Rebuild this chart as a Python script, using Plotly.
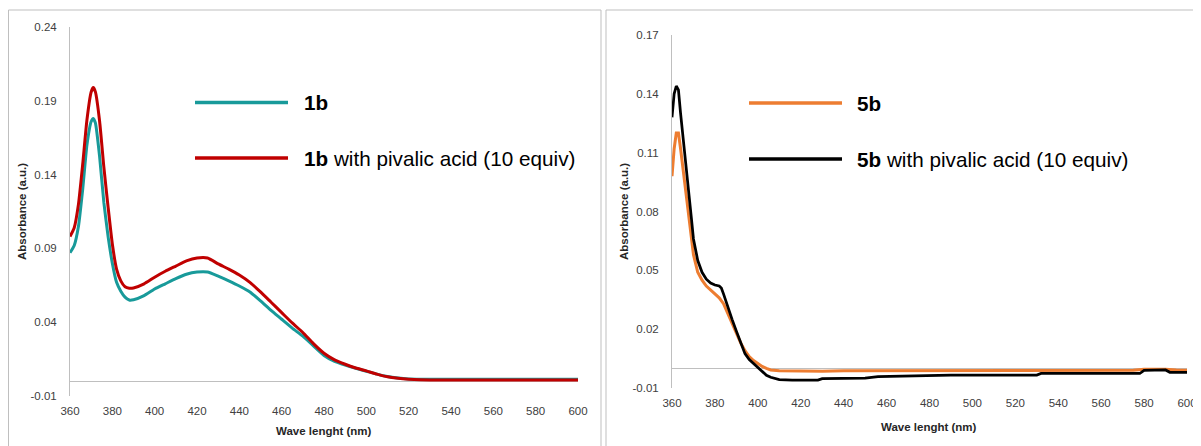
import plotly.graph_objects as go

# The page adds an 8px body margin; the figure is sized/positioned to compensate.
OFF = 8
W, H = 1201 - OFF, 446 - OFF

# ---------------- data ----------------
wl_1b = [360, 362, 364, 366, 368, 370, 371, 372, 374, 376, 378, 380, 382, 384, 386, 388,
         390, 395, 400, 405, 410, 415, 420, 425, 430, 435, 440, 445, 450, 455, 460, 465,
         470, 475, 480, 485, 490, 495, 500, 505, 510, 515, 520, 530, 540, 550, 560, 570,
         580, 590, 600]
abs_1b = [0.087, 0.092, 0.105, 0.130, 0.160, 0.176, 0.178, 0.175, 0.152, 0.121, 0.098, 0.080,
          0.067, 0.061, 0.057, 0.055, 0.0552, 0.058, 0.0625, 0.066, 0.0695, 0.0725, 0.0740,
          0.0740, 0.0712, 0.0680, 0.0645, 0.0605, 0.0545, 0.0480, 0.0420, 0.0360, 0.0305,
          0.0240, 0.0175, 0.0135, 0.0110, 0.0088, 0.0068, 0.0048, 0.0032, 0.0022, 0.0016,
          0.0013, 0.0013, 0.0013, 0.0013, 0.0013, 0.0014, 0.0013, 0.0013]
abs_1b_acid = [0.098, 0.104, 0.120, 0.147, 0.177, 0.196, 0.199, 0.196, 0.176, 0.145, 0.118,
               0.093, 0.076, 0.068, 0.064, 0.063, 0.0632, 0.066, 0.0705, 0.0745, 0.0780,
               0.0815, 0.0835, 0.0835, 0.0795, 0.0760, 0.0720, 0.0670, 0.0605, 0.0535,
               0.0465, 0.0395, 0.0330, 0.0255, 0.0190, 0.0145, 0.0115, 0.0090, 0.0070,
               0.0048, 0.0030, 0.0020, 0.0014, 0.0008, 0.0008, 0.0008, 0.0008, 0.0008,
               0.0008, 0.0008, 0.0008]

wl_5b = [360, 361, 362, 363, 364, 365, 366, 367, 368, 369, 370, 372, 374, 376, 378, 380, 382,
         384, 386, 388, 390, 392, 394, 396, 398, 400, 402, 404, 406, 410, 420, 430, 440, 460,
         480, 500, 520, 540, 560, 575, 580, 590, 595, 600]
abs_5b = [0.098, 0.112, 0.120, 0.120, 0.112, 0.102, 0.093, 0.085, 0.076, 0.066, 0.058, 0.049,
          0.045, 0.042, 0.040, 0.0385, 0.036, 0.033, 0.028, 0.0235, 0.018, 0.013, 0.009, 0.006,
          0.004, 0.0025, 0.001, 0.0, -0.0008, -0.0012, -0.0014, -0.0014, -0.0012, -0.0012,
          -0.0012, -0.0011, -0.0011, -0.0010, -0.0010, -0.0009, -0.0004, -0.0004, -0.0008,
          -0.0009]

wl_5b_acid = [360, 361, 362, 363, 364, 365, 366, 367, 368, 369, 370, 372, 374, 376, 378, 380,
              382, 383, 384, 386, 388, 390, 392, 394, 396, 398, 400, 402, 404, 406, 408, 410,
              416, 428, 430, 450, 456, 488, 490, 530, 532, 578, 580, 590, 592, 600]
abs_5b_acid = [0.128, 0.140, 0.144, 0.142, 0.130, 0.120, 0.110, 0.098, 0.087, 0.077, 0.066,
               0.055, 0.049, 0.0455, 0.0435, 0.0425, 0.042, 0.041, 0.038, 0.031, 0.025, 0.019,
               0.013, 0.0075, 0.0045, 0.0025, 0.0, -0.002, -0.0035, -0.0045, -0.005, -0.0057,
               -0.006, -0.006, -0.0052, -0.005, -0.0042, -0.0038, -0.0034, -0.0034, -0.0026,
               -0.0026, -0.001, -0.0008, -0.002, -0.002]

x_ticks = [360, 380, 400, 420, 440, 460, 480, 500, 520, 540, 560, 580, 600]
y_ticks_left = [-0.01, 0.04, 0.09, 0.14, 0.19, 0.24]
y_ticks_right = [-0.01, 0.02, 0.05, 0.08, 0.11, 0.14, 0.17]

name_1b = "1b"
name_1b_acid = "1b with pivalic acid (10 equiv)"
name_5b = "5b"
name_5b_acid = "5b with pivalic acid (10 equiv)"
x_title = "Wave lenght (nm)"
y_title = "Absorbance (a.u.)"

C_TEAL, C_RED, C_ORANGE, C_BLACK = "#189A9A", "#C00000", "#ED7D31", "#000000"
GRAY = "#BFBFBF"
FONT = "Arial, 'Liberation Sans', sans-serif"
TXT = "#404040"


def px(x):
    return (x - OFF) / W


def py(y):
    return 1 - (y - OFF) / H


fig = go.Figure()
fig.add_trace(go.Scatter(x=wl_1b, y=abs_1b, mode="lines", name=name_1b,
                         line=dict(color=C_TEAL, width=3, shape="spline", smoothing=0.5),
                         xaxis="x", yaxis="y"))
fig.add_trace(go.Scatter(x=wl_1b, y=abs_1b_acid, mode="lines", name=name_1b_acid,
                         line=dict(color=C_RED, width=3, shape="spline", smoothing=0.5),
                         xaxis="x", yaxis="y"))
fig.add_trace(go.Scatter(x=wl_5b, y=abs_5b, mode="lines", name=name_5b,
                         line=dict(color=C_ORANGE, width=3),
                         xaxis="x2", yaxis="y2"))
fig.add_trace(go.Scatter(x=wl_5b_acid, y=abs_5b_acid, mode="lines", name=name_5b_acid,
                         line=dict(color=C_BLACK, width=2.75),
                         xaxis="x2", yaxis="y2"))

tickfont = dict(family=FONT, size=11.5, color=TXT)
common_x = dict(range=[360, 600], tickmode="array", tickvals=x_ticks,
                ticktext=[str(v) for v in x_ticks], showgrid=False, zeroline=False,
                showline=False, ticks="", tickfont=tickfont, automargin=False,
                ticklabelstandoff=6)
common_y = dict(tickmode="array", showgrid=False, zeroline=True, zerolinecolor=GRAY,
                zerolinewidth=1, showline=True, linecolor=GRAY, linewidth=1, ticks="",
                tickfont=tickfont, automargin=False, ticklabelstandoff=10)

fig.update_layout(
    width=W, height=H, margin=dict(l=0, r=0, t=0, b=0),
    paper_bgcolor="white", plot_bgcolor="white", showlegend=False,
    font=dict(family=FONT, color=TXT),
    xaxis=dict(common_x, domain=[px(70), px(578)], anchor="y"),
    yaxis=dict(common_y, domain=[py(396), py(27)], range=[-0.01, 0.24], anchor="x",
               tickvals=y_ticks_left, ticktext=[f"{v:.2f}" for v in y_ticks_left]),
    xaxis2=dict(common_x, domain=[px(672), px(1187)], anchor="y2"),
    yaxis2=dict(common_y, domain=[py(388), py(35)], range=[-0.01, 0.17], anchor="x2",
                tickvals=y_ticks_right, ticktext=[f"{v:.2f}" for v in y_ticks_right]),
)

shapes = [
    dict(type="rect", xref="paper", yref="paper", x0=px(8.5), x1=px(601), y0=-0.05, y1=py(10),
         line=dict(color=GRAY, width=1)),
    dict(type="rect", xref="paper", yref="paper", x0=px(606), x1=1.05, y0=-0.05, y1=py(10),
         line=dict(color=GRAY, width=1)),
]
annotations = []

# legends (drawn manually: long sample lines)
legend_items = [
    (195, 288, 102.5, 302, C_TEAL, name_1b),
    (195, 288, 158, 302, C_RED, name_1b_acid),
    (749, 842, 103, 855, C_ORANGE, name_5b),
    (749, 842, 159, 855, C_BLACK, name_5b_acid),
]
for x0, x1, yy, xt, col, nm in legend_items:
    shapes.append(dict(type="line", xref="paper", yref="paper", x0=px(x0), x1=px(x1),
                       y0=py(yy), y1=py(yy), line=dict(color=col, width=3.5)))
    parts = nm.split(" ", 1)
    label = f"<b>{parts[0]}</b>" + (" " + parts[1] if len(parts) > 1 else "")
    annotations.append(dict(x=px(xt), y=py(yy), xref="paper", yref="paper", text=label,
                            showarrow=False, xanchor="left", yanchor="middle",
                            font=dict(family=FONT, size=20.7, color="#000000")))

# axis titles
for xc, yc in [(324, 431), (929, 427)]:
    annotations.append(dict(x=px(xc), y=py(yc), xref="paper", yref="paper",
                            text=f"<b>{x_title}</b>", showarrow=False,
                            xanchor="center", yanchor="middle",
                            font=dict(family=FONT, size=11.5, color="#262626")))
for xc, yc in [(22, 212), (624, 212)]:
    annotations.append(dict(x=px(xc), y=py(yc), xref="paper", yref="paper",
                            text=f"<b>{y_title}</b>", showarrow=False, textangle=-90,
                            xanchor="center", yanchor="middle",
                            font=dict(family=FONT, size=11.5, color="#262626")))

fig.update_layout(shapes=shapes, annotations=annotations)
fig.write_html("out.html")
